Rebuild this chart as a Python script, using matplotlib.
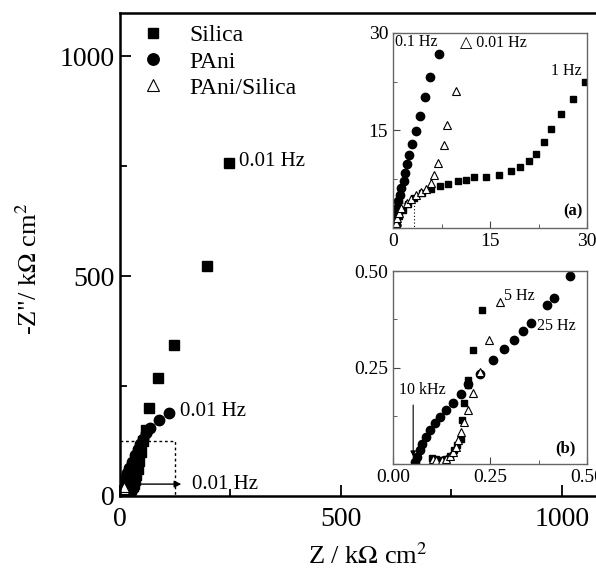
import matplotlib
matplotlib.use("Agg")
import matplotlib.pyplot as plt
from matplotlib.ticker import MultipleLocator, FormatStrFormatter, FuncFormatter

plt.rcParams['font.family'] = ['Liberation Serif', 'DejaVu Serif']
plt.rcParams['mathtext.fontset'] = 'stix'

# Nyquist data, high frequency -> low frequency (kOhm cm2)
silica_z = [0.101, 0.112, 0.125, 0.136, 0.147, 0.158, 0.166, 0.174, 0.179, 0.182, 0.193, 0.193,
            0.206, 0.230, 0.3, 0.5, 0.9, 1.5, 2.3, 3.2, 4.5, 5.9, 7.2, 8.5, 10.1, 11.3, 12.6,
            14.4, 16.4, 18.2, 19.6, 21.0, 22.1, 23.4, 24.4, 26.0, 27.8, 29.7,
            31, 33, 36, 40, 44, 48, 53, 58, 66, 87, 122, 196, 247]
silica_zi = [0.015, 0.012, 0.010, 0.012, 0.020, 0.035, 0.050, 0.066, 0.114, 0.159, 0.205, 0.217,
             0.295, 0.400, 0.6, 1.0, 1.8, 2.8, 3.7, 4.6, 5.4, 6.0, 6.4, 6.75, 7.2, 7.4, 7.8,
             7.9, 8.2, 8.7, 9.45, 10.3, 11.4, 13.3, 15.3, 17.6, 19.8, 22.4,
             28, 36, 48, 62, 80, 100, 125, 150, 200, 268, 344, 522, 756]

pani_z = [0.057, 0.062, 0.069, 0.076, 0.084, 0.095, 0.107, 0.120, 0.137, 0.155, 0.174, 0.193,
          0.223, 0.259, 0.286, 0.311, 0.335, 0.355, 0.397, 0.414, 0.455,
          0.25, 0.4, 0.6, 0.85, 1.05, 1.29, 1.65, 1.80, 2.16, 2.47, 2.99, 3.56, 4.12, 4.99, 5.77, 7.05,
          9, 12, 16, 21, 27, 34, 40, 46, 52, 60, 68, 89, 112]
pani_zi = [0.006, 0.019, 0.036, 0.053, 0.071, 0.088, 0.105, 0.122, 0.140, 0.157, 0.181, 0.207,
           0.234, 0.269, 0.297, 0.321, 0.345, 0.366, 0.411, 0.431, 0.486,
           1.0, 2.0, 3.1, 4.1, 5.1, 6.1, 7.3, 8.4, 9.8, 11.2, 12.9, 14.9, 17.3, 20.1, 23.2, 26.7,
           33, 42, 52, 64, 78, 93, 107, 118, 130, 143, 155, 173, 189]

comp_z = [0.103, 0.112, 0.125, 0.136, 0.146, 0.155, 0.162, 0.168, 0.174, 0.182, 0.193, 0.206,
          0.223, 0.247, 0.275, 0.4, 0.6, 0.9, 1.3, 2.1, 2.8, 3.6, 4.4, 5.05, 5.8, 6.4, 7.0, 7.9,
          8.4, 9.8]
comp_zi = [0.012, 0.010, 0.010, 0.014, 0.021, 0.032, 0.045, 0.062, 0.084, 0.109, 0.140, 0.183,
           0.239, 0.321, 0.420, 0.8, 1.5, 2.3, 3.1, 3.8, 4.4, 5.0, 5.5, 6.0, 6.9, 8.2, 10.0, 12.8,
           15.9, 21.0]

fig = plt.figure(figsize=(5.96, 5.72), dpi=100)
ax = fig.add_axes([0.2013, 0.1329, 0.7987, 0.8444])
axa = fig.add_axes([0.6594, 0.6014, 0.3255, 0.341])
axb = fig.add_axes([0.6594, 0.1888, 0.3255, 0.3374])


def draw(a, ms):
    a.plot(silica_z, silica_zi, ls='none', marker='s', color='black', ms=ms, label='Silica')
    a.plot(pani_z, pani_zi, ls='none', marker='o', color='black', ms=ms + 1, label='PAni')
    a.plot(comp_z, comp_zi, ls='none', marker='^', mfc='white', mec='black', mew=0.8,
           ms=ms + 1, label='PAni/Silica')


draw(ax, 6.5)
ax.set_xlim(0, 1077)
ax.set_ylim(0, 1098)
ax.xaxis.set_major_locator(MultipleLocator(500))
ax.xaxis.set_minor_locator(MultipleLocator(250))
ax.yaxis.set_major_locator(MultipleLocator(500))
ax.yaxis.set_minor_locator(MultipleLocator(250))
ax.tick_params(which='both', direction='in', labelsize=20, width=1.3)
ax.tick_params(which='major', length=8)
ax.tick_params(which='minor', length=5)
ax.tick_params(axis='x', pad=8)
for s in ['left', 'bottom', 'top']:
    ax.spines[s].set_linewidth(1.8)
ax.spines['right'].set_visible(False)
ax.set_xlabel('Z / k$\\Omega$ cm$^2$', fontsize=19)
ax.set_ylabel('-Z"/ k$\\Omega$ cm$^2$', fontsize=19)
ax.xaxis.set_label_coords(0.52, -0.098)
ax.yaxis.set_label_coords(-0.165, 0.47)

ax.plot([0, 125, 125], [125, 125, 0], ls=(0, (2, 2)), color='black', lw=1)
ax.annotate('', xy=(145, 27), xytext=(40, 27),
            arrowprops=dict(arrowstyle='-|>', color='black', lw=1, mutation_scale=10))
ax.text(163, 27, '0.01 Hz', fontsize=15, va='center')
ax.text(270, 760, '0.01 Hz', fontsize=15, va='center')
ax.text(135, 191, '0.01 Hz', fontsize=15, va='center')
ax.legend(loc='upper left', bbox_to_anchor=(-0.015, 1.005), frameon=False, fontsize=17,
          handletextpad=0.45, borderaxespad=0.2, labelspacing=0.2, handlelength=2.2,
          markerscale=1.1)

# inset (a)
draw(axa, 5)
axa.set_xlim(0, 30)
axa.set_ylim(0, 30)
axa.plot([0, 3.3, 3.3], [3.9, 3.9, 0], ls=(0, (1, 2)), color='black', lw=0.8)
axa.text(0.3, 28.6, '0.1 Hz', fontsize=11.5, va='center')
axa.text(10.3, 28.6, '\u25b3 0.01 Hz', fontsize=11.5, va='center')
axa.text(24.4, 24.2, '1 Hz', fontsize=11.5, va='center')
axa.text(29.3, 2.5, '(a)', fontsize=12, fontweight='bold', ha='right', va='center')
for a in (axa, axb):
    for s in a.spines.values():
        s.set_linewidth(1)
        s.set_color('#666666')
    a.tick_params(which='both', direction='in', labelsize=14, color='#444444')
    a.tick_params(which='major', length=5)
    a.tick_params(which='minor', length=3)
axa.xaxis.set_major_locator(MultipleLocator(15))
axa.xaxis.set_minor_locator(MultipleLocator(7.5))
axa.yaxis.set_major_locator(MultipleLocator(15))
axa.yaxis.set_minor_locator(MultipleLocator(7.5))
axa.yaxis.set_major_formatter(FuncFormatter(lambda v, p: '' if v == 0 else '%g' % v))

# inset (b)
draw(axb, 5)
axb.set_xlim(0, 0.5)
axb.set_ylim(0, 0.5)
axb.xaxis.set_major_locator(MultipleLocator(0.25))
axb.xaxis.set_minor_locator(MultipleLocator(0.125))
axb.yaxis.set_major_locator(MultipleLocator(0.25))
axb.yaxis.set_minor_locator(MultipleLocator(0.125))
axb.xaxis.set_major_formatter(FormatStrFormatter('%.2f'))
axb.yaxis.set_major_formatter(FuncFormatter(lambda v, p: '' if v == 0 else '%.2f' % v))
axb.text(0.285, 0.435, '5 Hz', fontsize=11.5, va='center')
axb.text(0.372, 0.358, '25 Hz', fontsize=11.5, va='center')
axb.text(0.016, 0.193, '10 kHz', fontsize=11.5, va='center')
axb.annotate('', xy=(0.052, 0.012), xytext=(0.052, 0.16),
             arrowprops=dict(arrowstyle='-|>', color='black', lw=0.8, mutation_scale=8))
axb.text(0.47, 0.04, '(b)', fontsize=12, fontweight='bold', ha='right', va='center')

fig.savefig('out.png', dpi=100)
